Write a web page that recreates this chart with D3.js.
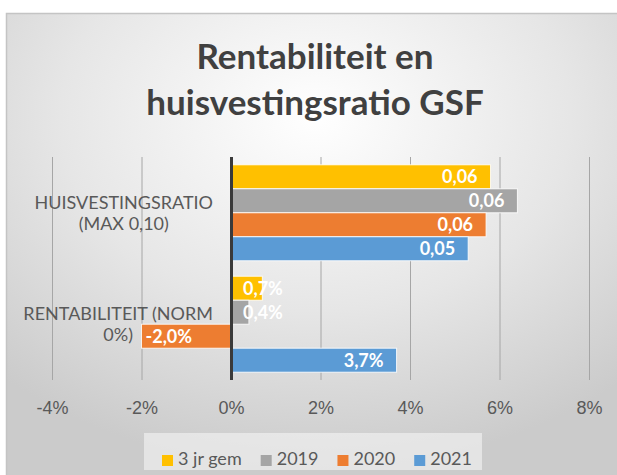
<!DOCTYPE html>
<html lang="nl">
<head>
<meta charset="UTF-8">
<title>Rentabiliteit en huisvestingsratio GSF</title>
<script src="https://d3js.org/d3.v7.min.js"></script>
<style>
  html, body { margin: 0; padding: 0; background: #fff; }
  svg { display: block; font-family: Lato, "Open Sans", sans-serif; }
</style>
</head>
<body>
<div id="chart"></div>
<script>
// data
const categories = ["HUISVESTINGSRATIO (MAX 0,10)", "RENTABILITEIT (NORM 0%)"];
const categoryLines = [["HUISVESTINGSRATIO", "(MAX 0,10)"], ["RENTABILITEIT (NORM", "0%)"]];
const series = ["3 jr gem", "2019", "2020", "2021"];
const huisvestingsratio = [0.058, 0.064, 0.057, 0.053];
const rentabiliteit = [0.007, 0.004, -0.020, 0.037];
const xTicks = [-0.04, -0.02, 0, 0.02, 0.04, 0.06, 0.08];
const colors = ["#ffc000", "#a5a5a5", "#ed7d31", "#5b9bd5"];

const W = 617, H = 475;
const plot = { left: 52, right: 589, top: 157, bottom: 380 };
const textGrey = "#595959";

const nl = d3.formatLocale({ decimal: ",", thousands: ".", grouping: [3], currency: ["€", ""], minus: "-" });
const fmtRatio = nl.format(".2f");
const fmtPct = nl.format(".1%");
const fmtTick = nl.format(".0%");

const rows = categories.map((c, i) => ({
    cat: c,
    lines: categoryLines[i],
    values: i === 0 ? huisvestingsratio : rentabiliteit,
    fmt: i === 0 ? fmtRatio : fmtPct
}));

const svg = d3.select("#chart").append("svg")
    .attr("width", W)
    .attr("height", H);

// background with radial gradient
const defs = svg.append("defs");
const grad = defs.append("radialGradient")
    .attr("id", "bg")
    .attr("cx", 0.5).attr("cy", 0.22).attr("r", 0.75);
grad.append("stop").attr("offset", 0).attr("stop-color", "#ffffff");
grad.append("stop").attr("offset", 0.55).attr("stop-color", "#e6e6e6");
grad.append("stop").attr("offset", 1).attr("stop-color", "#cbcbcb");

svg.append("rect")
    .attr("x", 6.5).attr("y", 13.5)
    .attr("width", 618).attr("height", 470)
    .attr("fill", "url(#bg)")
    .attr("stroke", "#c4c4c4")
    .attr("stroke-width", 1.5);

// scales
const x = d3.scaleLinear().domain([-0.04, 0.08]).range([plot.left, plot.right]);
const y0 = d3.scaleBand().domain(categories).range([plot.top, plot.bottom])
    .paddingInner(0.139).paddingOuter(0.07);
const y1 = d3.scaleBand().domain(series).range([0, y0.bandwidth()]);

// gridlines + tick labels
const xAxis = d3.axisBottom(x)
    .tickValues(xTicks)
    .tickFormat(fmtTick)
    .tickSize(-(plot.bottom - plot.top))
    .tickPadding(21);

const gx = svg.append("g")
    .attr("transform", `translate(0,${plot.bottom})`)
    .call(xAxis);
gx.select(".domain").remove();
gx.selectAll(".tick line").attr("stroke", "#a6a6a6").attr("stroke-width", 1);
gx.selectAll(".tick text")
    .attr("fill", textGrey)
    .style("font-size", "18px");

// bars
const groups = svg.selectAll(".cat")
    .data(rows)
    .join("g")
    .attr("class", "cat")
    .attr("transform", d => `translate(0,${y0(d.cat)})`);

groups.selectAll("rect")
    .data(d => d.values.map((v, i) => ({ v, s: series[i], i, fmt: d.fmt })))
    .join("rect")
    .attr("x", d => Math.min(x(0), x(d.v)))
    .attr("y", d => y1(d.s))
    .attr("width", d => Math.abs(x(d.v) - x(0)))
    .attr("height", y1.bandwidth())
    .attr("fill", d => colors[d.i])
    .attr("stroke", "rgba(255,255,255,0.85)")
    .attr("stroke-width", 1);

// data labels (inside end)
groups.selectAll("text.lbl")
    .data(d => d.values.map((v, i) => ({ v, s: series[i], i, fmt: d.fmt })))
    .join("text")
    .attr("class", "lbl")
    .attr("y", d => y1(d.s) + y1.bandwidth() / 2)
    .attr("dy", "0.36em")
    .attr("fill", "#ffffff")
    .style("font-size", "18px")
    .style("font-weight", "bold")
    .text(d => d.fmt(d.v))
    .each(function(d) {
        const t = d3.select(this);
        const tw = this.getComputedTextLength();
        const bw = Math.abs(x(d.v) - x(0));
        if (d.v < 0) {
            t.attr("text-anchor", "start").attr("x", x(d.v) + 4);
        } else if (bw < tw + 20) {
            t.attr("text-anchor", "start").attr("x", x(0) + 12);
        } else {
            t.attr("text-anchor", "end").attr("x", x(d.v) - 13);
        }
    });

// zero axis
svg.append("line")
    .attr("x1", x(0) + 0.5).attr("x2", x(0) + 0.5)
    .attr("y1", plot.top).attr("y2", plot.bottom)
    .attr("stroke", "#3a3a3a")
    .attr("stroke-width", 3);

// category labels: block right edge at 213, lines centred in the block
const labelRight = 213;
groups.each(function(d) {
    const g = d3.select(this);
    const lab = g.append("g");
    const texts = lab.selectAll("text")
        .data(d.lines)
        .join("text")
        .attr("text-anchor", "middle")
        .attr("y", (l, i) => y0.bandwidth() / 2 - 4 + i * 21)
        .attr("fill", textGrey)
        .style("font-size", "18px")
        .text(l => l);
    let maxW = 0;
    texts.each(function() { maxW = Math.max(maxW, this.getComputedTextLength()); });
    texts.attr("x", labelRight - maxW / 2);
});

// title
svg.append("text")
    .attr("text-anchor", "middle")
    .attr("fill", "#404040")
    .style("font-size", "35px")
    .style("font-weight", "bold")
    .selectAll("tspan")
    .data(["Rentabiliteit en", "huisvestingsratio GSF"])
    .join("tspan")
    .attr("x", 315)
    .attr("y", (d, i) => 69 + i * 46)
    .text(d => d);

// legend
const legend = svg.append("g");
const legBox = legend.append("rect")
    .attr("fill", "rgba(245,245,245,0.6)");
const items = legend.selectAll("g.item")
    .data(series)
    .join("g")
    .attr("class", "item");
items.append("rect")
    .attr("width", 11).attr("height", 11)
    .attr("y", 455)
    .attr("fill", (d, i) => colors[i]);
items.append("text")
    .attr("x", 16)
    .attr("y", 465)
    .attr("fill", textGrey)
    .style("font-size", "18px")
    .text(d => d);

let cursor = 0;
const offsets = [];
items.each(function() {
    offsets.push(cursor);
    const tw = d3.select(this).select("text").node().getComputedTextLength();
    cursor += 16 + tw + 19;
});
const total = cursor - 19;
const legStart = 317 - total / 2;
items.attr("transform", (d, i) => `translate(${legStart + offsets[i]},0)`);
legBox.attr("x", legStart - 18).attr("y", 433)
    .attr("width", total + 28).attr("height", 37);
</script>
</body>
</html>
